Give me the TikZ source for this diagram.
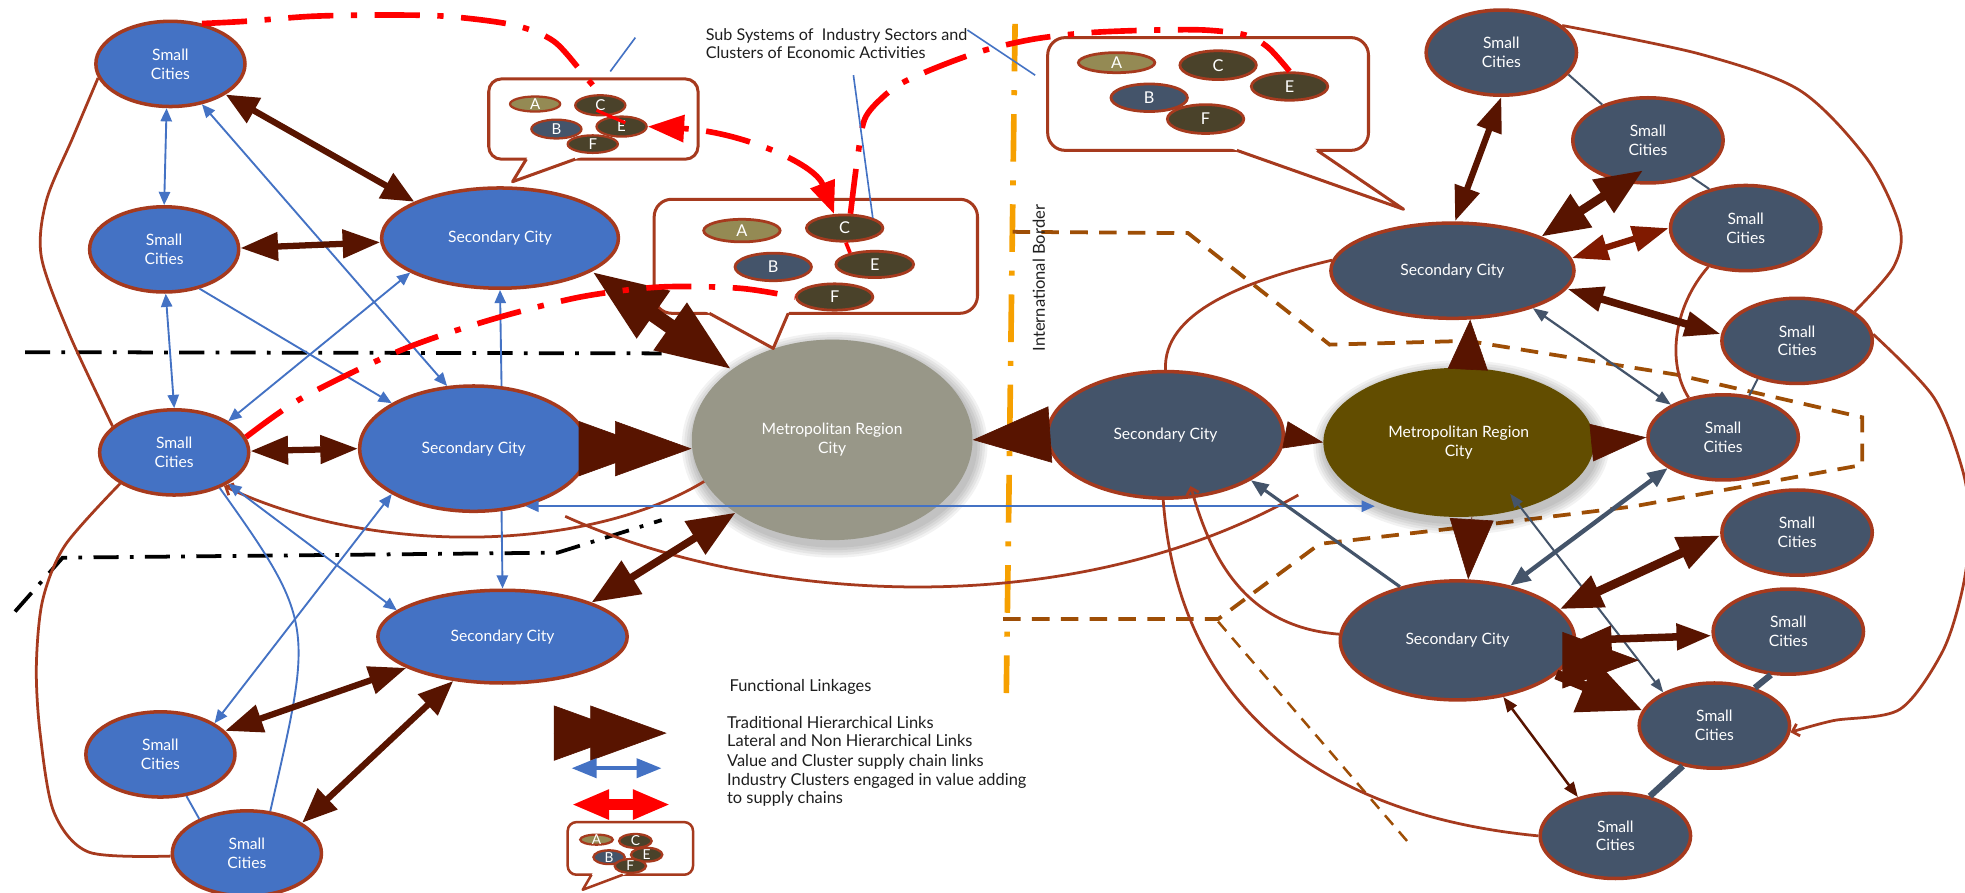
\documentclass[tikz,border=0pt]{standalone}
\usepackage{fontspec}
\setmainfont{Lato}
\usetikzlibrary{arrows.meta,calc,shapes.geometric}

\definecolor{cblue}{RGB}{68,114,196}
\definecolor{cslate}{RGB}{68,84,106}
\definecolor{cbord}{RGB}{166,58,30}
\definecolor{cbrown}{RGB}{88,20,0}
\definecolor{crust}{RGB}{128,26,0}
\definecolor{cmetroA}{RGB}{152,151,136}
\definecolor{cmetroB}{RGB}{98,77,0}
\definecolor{corange}{RGB}{246,160,0}
\definecolor{cdash}{RGB}{158,78,6}
\definecolor{ckhaki}{RGB}{148,138,84}
\definecolor{colive}{RGB}{74,66,42}
\definecolor{ctext}{RGB}{30,30,30}

\begin{document}
\begin{tikzpicture}[x=1pt,y=-1pt,
  every node/.style={inner sep=0pt},
  citybase/.style={ellipse, draw=cbord, line width=2.8pt, text=white, align=center, font=\fontsize{12.5}{15}\selectfont},
  smallcity/.style={citybase, fill=cblue, minimum width=119pt, minimum height=68pt},
  rsmallcity/.style={citybase, fill=cslate, minimum width=120pt, minimum height=68pt},
  seccity/.style={citybase, fill=cblue},
  rseccity/.style={citybase, fill=cslate},
  metrocity/.style={ellipse, text=white, align=center, font=\fontsize{12.5}{15}\selectfont},
  minibub/.style 2 args={ellipse, draw=cbord, line width=2pt, label={[text=white,font=\fontsize{#2}{#2}\selectfont]center:#1}},
  bubble/.style={draw=cbord, line width=2.4pt, fill=white},
  bubedge/.style={draw=cbord, line width=2.4pt, line join=round},
  brarr/.style n args={3}{draw=cbrown, line width=#1, arrows={Triangle[length=#2,width=#3]-Triangle[length=#2,width=#3]}},
  brone/.style n args={3}{draw=cbrown, line width=#1, arrows={-Triangle[length=#2,width=#3]}},
  tri/.style 2 args={draw=cbrown, line width=0.5pt, arrows={-Triangle[length=#1,width=#2]}},
  hier/.style={tri={61pt}{44pt}},
  barr/.style={draw=cblue, line width=1.5pt, arrows={Triangle[length=10.5pt,width=9pt]-Triangle[length=10.5pt,width=9pt]}},
  barrone/.style={draw=cblue, line width=1.5pt, arrows={-Triangle[length=10.5pt,width=9pt]}},
  bline/.style={draw=cblue, line width=1.5pt},
  sarr/.style n args={3}{draw=cslate, line width=#1, arrows={Triangle[length=#2,width=#3]-Triangle[length=#2,width=#3]}},
  sarrone/.style n args={3}{draw=cslate, line width=#1, arrows={-Triangle[length=#2,width=#3]}},
  sline/.style={draw=cslate, line width=#1},
  bcurve/.style={draw=cbord, line width=2.2pt},
  barb/.style={arrows={-Straight Barb[length=5pt,width=10pt]}},
  rdd/.style={draw=red, line width=4.5pt, dash pattern=on 36pt off 14pt on 5pt off 14pt},
  kdd/.style={draw=black, line width=3pt, dash pattern=on 20pt off 9pt on 3pt off 9pt},
  odd/.style={draw=corange, line width=4.5pt, dash pattern=on 38pt off 15pt on 4pt off 15pt},
  bdash/.style={draw=cdash, line width=3pt, dash pattern=on 14pt off 9pt},
  bdashthin/.style={draw=cdash, line width=2pt, dash pattern=on 10pt off 7pt},
  lead/.style={draw=cblue, line width=1.3pt},
  legtext/.style={anchor=base west, text=ctext, font=\fontsize{13.1}{15}\selectfont}
]
\fill[white] (0,0) rectangle (1568,712);
\useasboundingbox (0,0) rectangle (1568,712);

% ---------- region boundaries ----------
\draw[kdd] (20,281) -- (528,282);
\draw[kdd] (12,488) -- (50,445) -- (445,441) -- (528,415);
\draw[odd] (810,19) -- (803,553);
\draw[bdash] (808,185) -- (948,186) -- (1061,275) -- (1171,272) -- (1338,299) -- (1486,333) -- (1486,371) -- (1304,404) -- (1191,418) -- (1053,434) -- (972,494) -- (798,494);
\draw[bdashthin] (972,496) -- (1127,676);

% ---------- soft halos of the metropolitan cities ----------
\foreach \rx/\ry in {114/82,116/84,118/86,120/88,122/90}{
  \fill[black,opacity=0.05] (666,355) ellipse [x radius=\rx pt, y radius=\ry pt];}
\foreach \rx/\ry in {110/61.5,112/63.5,114/65.5,116/67.5,118/69.5}{
  \fill[black,opacity=0.05] (1166,357) ellipse [x radius=\rx pt, y radius=\ry pt];}

% ---------- cities: left system ----------
\node[smallcity] (SC1) at (136,51) {Small\\Cities};
\node[smallcity] (SC2) at (131,199) {Small\\Cities};
\node[smallcity] (SC3) at (139,361) {Small\\Cities};
\node[smallcity] (SC4) at (128,602) {Small\\Cities};
\node[smallcity] (SC5) at (197,681) {Small\\Cities};
\node[seccity, minimum width=189pt, minimum height=80pt] (SEC1) at (399,190) {Secondary City};
\node[seccity, minimum width=182pt, minimum height=100pt] (SEC2) at (378,358) {Secondary City};
\node[seccity, minimum width=199pt, minimum height=74pt] (SEC3) at (401,508) {Secondary City};
\node[metrocity, fill=cmetroA, minimum width=224pt, minimum height=160pt] (M1) at (664,351) {Metropolitan Region\\City};

% ---------- cities: right system ----------
\node[rseccity, minimum width=188pt, minimum height=101pt] (RSEC1) at (930,347) {Secondary City};
\node[metrocity, fill=cmetroB, minimum width=216pt, minimum height=119pt] (M2) at (1164,353) {Metropolitan Region\\City};
\node[rseccity, minimum width=194pt, minimum height=76pt] (RSEC2) at (1159,216) {Secondary City};
\node[rseccity, minimum width=187pt, minimum height=95pt] (RSEC3) at (1163,511) {Secondary City};
\node[rsmallcity] (R1) at (1198,42) {Small\\Cities};
\node[rsmallcity] (R2) at (1315,112) {Small\\Cities};
\node[rsmallcity] (R3) at (1393,182) {Small\\Cities};
\node[rsmallcity] (R4) at (1434,272) {Small\\Cities};
\node[rsmallcity] (R5) at (1375,349) {Small\\Cities};
\node[rsmallcity] (R6) at (1434,425) {Small\\Cities};
\node[rsmallcity] (R7) at (1427,504) {Small\\Cities};
\node[rsmallcity] (R8) at (1368,579) {Small\\Cities};
\node[rsmallcity] (R9) at (1289,667) {Small\\Cities};

% ---------- cluster call-outs ----------
\draw[bubble, rounded corners=10pt] (390,63) rectangle (557,127);
\fill[white] (421.8,124) -- (409,145) -- (467.3,124) -- cycle;
\draw[bubedge] (420,127) -- (409,145) -- (459,127);

\draw[bubble, rounded corners=14pt] (522,159) rectangle (780,250);
\fill[white] (560.5,247) -- (617,278) -- (630.3,247) -- cycle;
\draw[bubedge] (566,250) -- (617,278) -- (629,250);

\draw[bubble, rounded corners=14pt] (836,30) rectangle (1092,120);
\fill[white] (978.5,117) -- (1120,167) -- (1046.6,117) -- cycle;
\draw[bubedge] (987,120) -- (1120,167) -- (1051,120);

\draw[bubble, line width=2pt, rounded corners=7pt] (453,656) rectangle (553,698);
\fill[white] (473.7,695.5) -- (465,710) -- (505,695.5) -- cycle;
\draw[bubedge, line width=2pt] (472,698) -- (465,710) -- (497,698);

% clusters in the first call-out
\node[minibub={A}{12}, fill=ckhaki, line width=1.8pt, minimum width=40pt, minimum height=12pt] (b1a) at (427,83) {};
\node[minibub={C}{12}, fill=colive, line width=1.8pt, minimum width=40pt, minimum height=16pt] (b1c) at (479,84) {};
\node[minibub={B}{12}, fill=cslate, line width=1.8pt, minimum width=40pt, minimum height=15pt] (b1b) at (444,103) {};
\node[minibub={E}{12}, fill=colive, line width=1.8pt, minimum width=40pt, minimum height=16pt] (b1e) at (496,101) {};
\node[minibub={F}{12}, fill=colive, line width=1.8pt, minimum width=40pt, minimum height=14pt] (b1f) at (473,115) {};
% clusters in the second call-out
\node[minibub={A}{13}, fill=ckhaki, line width=2.2pt, minimum width=61pt, minimum height=18pt] (b2a) at (592,184) {};
\node[minibub={C}{13}, fill=colive, line width=2.2pt, minimum width=61pt, minimum height=21pt] (b2c) at (674,182) {};
\node[minibub={B}{13}, fill=cslate, line width=2.2pt, minimum width=61pt, minimum height=22pt] (b2b) at (617,213) {};
\node[minibub={E}{13}, fill=colive, line width=2.2pt, minimum width=62pt, minimum height=21pt] (b2e) at (698,211) {};
\node[minibub={F}{13}, fill=colive, line width=2.2pt, minimum width=61pt, minimum height=21pt] (b2f) at (666,237) {};
% clusters in the third call-out
\node[minibub={A}{13}, fill=ckhaki, line width=2.2pt, minimum width=61pt, minimum height=16pt] (b3a) at (891,50) {};
\node[minibub={C}{13}, fill=colive, line width=2.2pt, minimum width=61pt, minimum height=23pt] (b3c) at (972,52) {};
\node[minibub={E}{13}, fill=colive, line width=2.2pt, minimum width=61pt, minimum height=22pt] (b3e) at (1029,69) {};
\node[minibub={B}{13}, fill=cslate, line width=2.2pt, minimum width=61pt, minimum height=22pt] (b3b) at (917,78) {};
\node[minibub={F}{13}, fill=colive, line width=2.2pt, minimum width=61pt, minimum height=23pt] (b3f) at (962,95) {};
% clusters in the legend call-out
\node[minibub={A}{11}, fill=ckhaki, line width=1.8pt, minimum width=26pt, minimum height=8pt] (b4a) at (476,670) {};
\node[minibub={C}{11}, fill=colive, line width=1.8pt, minimum width=26pt, minimum height=11pt] (b4c) at (507,671) {};
\node[minibub={B}{11}, fill=cslate, line width=1.8pt, minimum width=25pt, minimum height=11pt] (b4b) at (486,684) {};
\node[minibub={E}{11}, fill=colive, line width=1.8pt, minimum width=25pt, minimum height=11pt] (b4e) at (516,682) {};
\node[minibub={F}{11}, fill=colive, line width=1.8pt, minimum width=25pt, minimum height=11pt] (b4f) at (503,691) {};

% ---------- left system: lateral links ----------
\draw[bcurve] plot[smooth] coordinates {(SC1.191) (58,110) (37,160) (33,205) (55,266) (SC3.157)};
\draw[bcurve] plot[smooth] coordinates {(SC3.210) (52,435) (34,479) (29,532) (32,585) (43,648) (71,680) (SC5.182)};
\draw[bcurve, barb] (M1.198) .. controls (470,440) and (300,445) .. (SC3.-34);
\coordinate (c4a) at (451,412);
\coordinate (c4b) at (1036,395);
\draw[bcurve] (c4a) .. controls (600,480) and (850,500) .. (c4b);

\draw[barr] (SC1.-95) -- (SC2.90);
\draw[barr] (SC2.-88) -- (SC3.90);
\draw[barr] (SC1.-52) -- (SEC2.113);
\draw[barrone] (SC2.-48) -- (SEC2.151);
\draw[barr] (SC3.30) -- (SEC1.201);
\draw[barrone] (SEC2.66) -- (SEC1.-90);
\draw[barrone] (SEC2.-66) -- (SEC3.90);
\draw[barr] (SC3.-30) -- (SEC3.166);
\draw[barr] (SEC2.209) -- (SC4.30);
\draw[bline] (SC3.-38) .. controls (253,498) and (249,500) .. (SC5.61);
\draw[bline] (SC4.-58) -- (SC5.144);
\coordinate (blL) at (SEC2.-48);
\coordinate (blR) at (M2.215);
\draw[barr] (blL) -- (blL -| blR);

% ---------- left system: hierarchical links ----------
\draw[brarr={5pt}{26pt}{22pt}] (SC1.-29) -- (SEC1.157);
\draw[brarr={5pt}{30pt}{22pt}] (SC2.1) -- (SEC1.182);
\draw[brarr={5pt}{30pt}{22pt}] (SC3.1) -- (SEC2.180);
\draw[brarr={12pt}{60pt}{43pt}] (SEC1.-20) -- (M1.145);
\draw[brarr={6pt}{38pt}{30pt}] (SEC3.21) -- (M1.217);
\draw[brarr={5pt}{30pt}{22pt}] (SC4.20) -- (SEC3.198);
\draw[brarr={5pt}{28pt}{22pt}] (SC5.29) -- (SEC3.222);
\draw[hier] (SEC2.east) -- (SEC2.east -| M1.west);
\draw[hier, shorten >=29pt] (SEC2.east) -- (SEC2.east -| M1.west);

% ---------- right system ----------
\draw[bcurve] (RSEC2.175) .. controls (990,225) and (928,250) .. (RSEC1.north);
\draw[bcurve] (RSEC1.-92) .. controls (940,560) and (1050,650) .. (R9.180);
\draw[bcurve, barb] (RSEC3.177) .. controls (990,500) and (965,440) .. ($(RSEC1.south)+(20,-11)$);
\draw[bcurve] plot[smooth] coordinates {(R1.24) (1356,43) (1436,72) (1490,127) (1516,181) (1511,213) (R4.27)};
\draw[bcurve, barb] plot[smooth] coordinates {(R4.5) (1543,317) (1566,375) (1572,420) (1566,470) (1550,520) (1516,566) (1463,575) (R8.-5)};
\draw[bcurve] (R3.226) .. controls (1335,245) and (1330,290) .. (R5.131);

\draw[sline=1.6pt] (R1.-18) -- (R2.142);
\draw[sline=1.6pt] (R2.-40) -- (R3.133);
\draw[sline=1.6pt] (R4.224) -- (R5.58);
\draw[sline=5pt] (R7.248) -- (R8.43);
\draw[sline=5pt] (R8.232) -- (R9.49);
\draw[sarr={1.8pt}{12pt}{9pt}] (RSEC2.-25) -- (R5.148);
\draw[sarr={3.5pt}{16pt}{13pt}] (R5.209) -- (RSEC3.46);
\draw[sarr={1.6pt}{11pt}{8pt}] ($(M2.center)+(41,41)$) -- (R8.147);
\draw[sarrone={2.5pt}{14pt}{11pt}] (RSEC3.137) -- (RSEC1.-28);

\draw[brarr={5pt}{28pt}{20pt}] (RSEC2.87) -- (R1.-90);
\draw[brarr={7pt}{38pt}{30pt}] (RSEC2.21) -- ($(R2.center)+(-4,24)$);
\draw[brarr={5pt}{29pt}{20pt}, draw=crust] (RSEC2.6) -- (R3.180);
\draw[brarr={6pt}{29pt}{19pt}] (RSEC2.-9) -- (R4.175);
\draw[tri={40pt}{32pt}] (M2.83) -- (RSEC2.-70);
\draw[tri={48pt}{35pt}] (M2.-80) -- (RSEC3.80);
\draw[tri={44pt}{30pt}] (M2.east) -- (R5.west);
\draw[tri={31pt}{22pt}] (RSEC1.east) -- (M2.west);
\draw[tri={62pt}{45pt}] (RSEC1.west) -- (M1.east);
\draw[brarr={7pt}{34pt}{26pt}] (RSEC3.17) -- (R6.182);
\draw[brarr={6pt}{28pt}{20pt}] (RSEC3.east) -- (R7.183);
\draw[tri={61pt}{45pt}] (RSEC3.-10) -- ++(55,0);
\draw[brone={8pt}{50pt}{43pt}] (RSEC3.-19) -- (R8.168);
\draw[brarr={2pt}{12pt}{9pt}] (RSEC3.-51) -- (R9.134);

% ---------- supply chain links between clusters ----------
\draw[rdd] plot[smooth] coordinates {(SC1.52) (196,17) (249,13) (303,12) (356,13) (410,20) (442,33) (467,61) (b1c.north)};
\draw[rdd] plot[smooth] coordinates {(SC3.12) (242,317) (321,279) (392,255) (463,237) (527,229) (590,230) (b2f.west)};
\draw[rdd] plot[smooth] coordinates {(b2c.68) (684,128) (690,95) (705,77) (722,65) (752,52) (786,40) (826,31) (870,26) (921,24) (962,24) (994,28) (1012,38) (b3e.north)};
\draw[rdd, arrows={Triangle[length=26pt,width=20pt]-Triangle[length=29pt,width=21pt]}] (b2c.127) .. controls (650,130) and (590,105) .. (b1e.east);
\draw[red, line width=2.5pt] ($(b1c.center)+(-3,4)$) -- ($(b1e.center)+(3,-3)$);
\draw[red, line width=3pt] (b2c.-85) -- (b2e.155);

% ---------- leader lines ----------
\coordinate (lead1a) at (487,57);
\coordinate (lead1b) at (507,30);
\draw[lead] (lead1a) -- (lead1b);
\coordinate (lead2) at (681,60);
\draw[lead] (lead2) -- (b2c.20);
\coordinate (lead3a) at (772,24);
\coordinate (lead3b) at (826,60);
\draw[lead] (lead3a) -- (lead3b);

% ---------- labels ----------
\node[legtext, font=\fontsize{12.9}{14}\selectfont] (sub1) at (563,32) {Sub Systems of\ \ Industry Sectors and};
\node[legtext, font=\fontsize{12.9}{14}\selectfont] (sub2) at (563,47) {Clusters of Economic Activities};
\node[rotate=90, text=ctext, font=\fontsize{13.2}{15}\selectfont] (border) at (829,222) {International Border};

% ---------- legend ----------
\node[legtext] (lgtitle) at (582,552) {Functional Linkages};
\node[legtext] (lg1) at (580,581) {Traditional Hierarchical Links};
\node[legtext] (lg2) at (580,596) {Lateral and Non Hierarchical Links};
\node[legtext] (lg3) at (580,611.5) {Value and Cluster supply chain links};
\node[legtext] (lg4) at (580,627) {Industry Clusters engaged in value adding};
\node[legtext] (lg5) at (580,641.5) {to supply chains};
\coordinate (lgT1) at (442,585);
\coordinate (lgT2) at (532,585);
\draw[hier] (lgT1) -- (lgT2);
\draw[hier, shorten >=29pt] (lgT1) -- (lgT2);
\coordinate (lgB1) at (456,613);
\coordinate (lgB2) at (528,613);
\draw[draw=cblue, line width=3.5pt, arrows={Triangle[length=20pt,width=15pt]-Triangle[length=20pt,width=15pt]}] (lgB1) -- (lgB2);
\coordinate (lgR1) at (456,642);
\coordinate (lgR2) at (535,642);
\draw[draw=red, line width=9pt, arrows={Triangle[length=30pt,width=22pt]-Triangle[length=30pt,width=22pt]}] (lgR1) -- (lgR2);
\end{tikzpicture}
\end{document}
